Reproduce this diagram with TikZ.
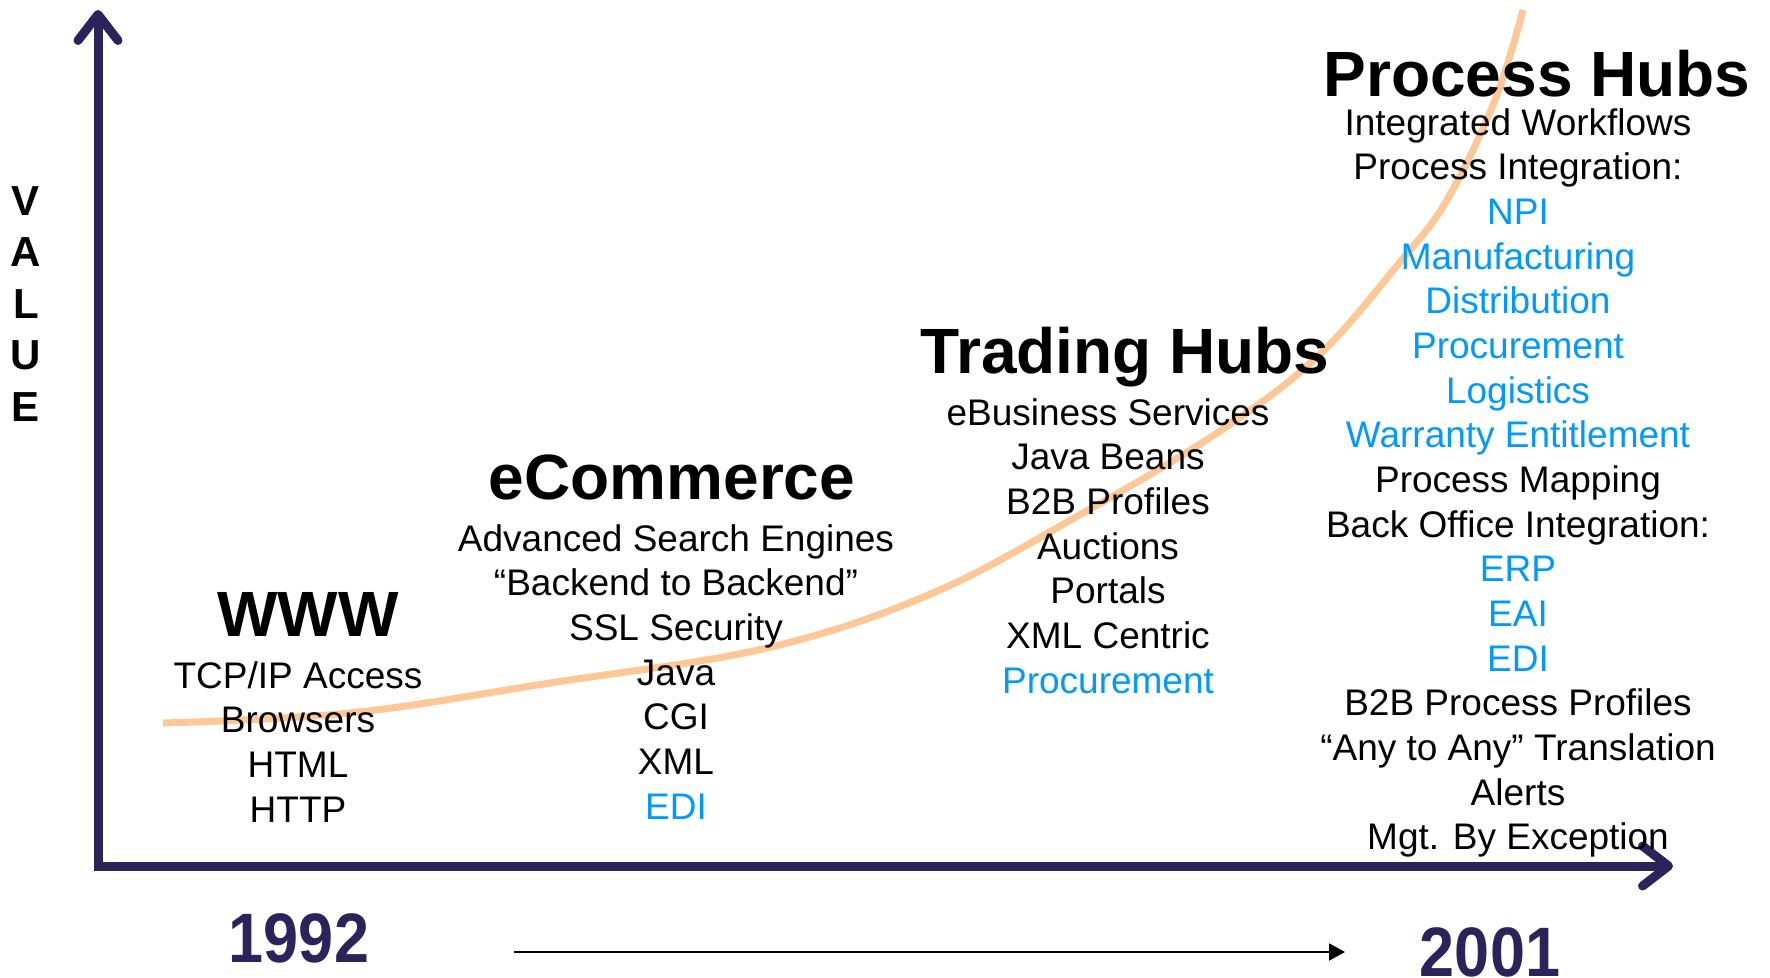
\documentclass[tikz,border=0pt]{standalone}
\usepackage{graphicx}
\usepackage{fontspec}
\setmainfont{Liberation Sans}
\usetikzlibrary{arrows.meta,positioning}
\definecolor{axisnavy}{RGB}{43,35,90}
\definecolor{trendorange}{RGB}{253,200,150}
\definecolor{itemblue}{RGB}{0,153,255}

\begin{document}
\begin{tikzpicture}[
		x=0.5pt, y=-0.5pt,
		every node/.style={inner sep=0pt, align=center},
		hubtitle/.style={font=\bfseries\fontsize{32}{38}\selectfont, anchor=base},
		hubitems/.style={font=\fontsize{18.5}{22.33}\selectfont},
		year/.style={font=\bfseries\fontsize{35}{40}\selectfont, text=axisnavy, anchor=base},
		axis/.style={draw=axisnavy, line width=4.5pt},
		trend/.style={draw=trendorange, line width=3.5pt}
		]
		\useasboundingbox (0,0) rectangle (1770,978);

		% value curve, behind the text
		\draw[trend] plot[smooth, tension=0.6] coordinates {(163,723) (350,713) (550,683) (767,648) (933,593) (1083,513) (1217,433) (1317,357) (1400,262) (1447,200) (1495,100) (1523,10)};

		% axes
		\coordinate (origin) at (98,866);
		\coordinate (ytip) at (98,10);
		\coordinate (xtip) at (1673,866);
		\draw[axis, {Straight Barb[length=13pt,width=20pt,round]}-{Straight Barb[length=13pt,width=20pt,round]}]
			(ytip) -- (origin) -- (xtip);
		\node[font=\bfseries\fontsize{21}{25.75}\selectfont] (valuelabel) at (26,304) {V\\A\\L\\U\\E};

		% the four stages
		\node[hubtitle] (www) at (308,636) {WWW};
		\node[hubitems, below=12.5pt of www.base, xshift=-5pt] (wwwlist)
			{TCP/IP Access\\Browsers\\HTML\\HTTP};

		\node[hubtitle] (ecom) at (672,499) {eCommerce};
		\node[hubitems, below=12.5pt of ecom.base, xshift=2pt] (ecomlist)
			{Advanced Search Engines\\“Backend to Backend”\\SSL Security\\Java\\CGI\\XML\\
			\textcolor{itemblue}{EDI}};

		\node[hubtitle] (trade) at (1125,373) {Trading Hubs};
		\node[hubitems, below=12.5pt of trade.base, xshift=-8.5pt] (tradelist)
			{eBusiness Services\\Java Beans\\B2B Profiles\\Auctions\\Portals\\XML Centric\\
			\textcolor{itemblue}{Procurement}};

		\node[hubtitle] (proc) at (1537,97) {Process Hubs};
		\node[hubitems, below=5.5pt of proc.base, xshift=-9.5pt] (proclist)
			{Integrated Workflows\\Process Integration:\\
			\textcolor{itemblue}{NPI}\\\textcolor{itemblue}{Manufacturing}\\
			\textcolor{itemblue}{Distribution}\\\textcolor{itemblue}{Procurement}\\
			\textcolor{itemblue}{Logistics}\\\textcolor{itemblue}{Warranty Entitlement}\\
			Process Mapping\\Back Office Integration:\\
			\textcolor{itemblue}{ERP}\\\textcolor{itemblue}{EAI}\\\textcolor{itemblue}{EDI}\\
			B2B Process Profiles\\“Any to Any” Translation\\Alerts\\Mgt. By Exception};

		% time line
		\node[year] (y1992) at (299,962) {\scalebox{0.9}[1]{1992}};
		\node[year] (y2001) at (1490,976) {\scalebox{0.9}[1]{2001}};
		\coordinate (timeA) at (514,952);
		\coordinate (timeB) at (1345,952);
		\draw[line width=1pt, -{Triangle[length=8pt,width=8.5pt]}] (timeA) -- (timeB);
		\end{tikzpicture}
\end{document}
